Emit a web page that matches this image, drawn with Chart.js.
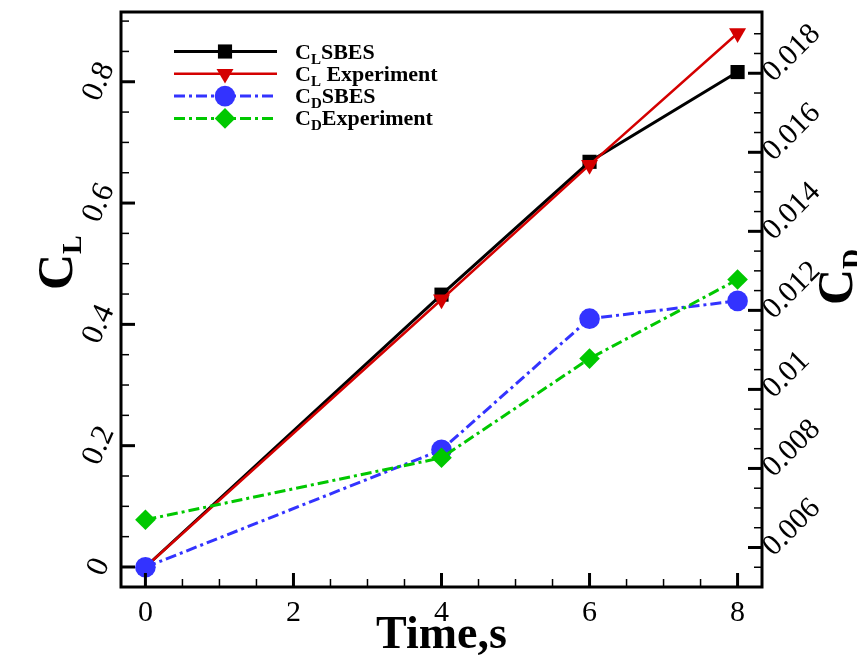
<!DOCTYPE html>
<html>
<head>
<meta charset="utf-8">
<script src="https://cdn.jsdelivr.net/npm/chart.js@4.4.1/dist/chart.umd.min.js"></script>
<style>
  html, body { margin: 0; padding: 0; background: #fff; }
  canvas { display: block; }
</style>
</head>
<body>
<canvas id="c" width="857" height="656"></canvas>
<script>
// Lift and drag coefficients over time
const time   = [0, 4, 6, 8];
const clSBES = [0, 0.449, 0.668, 0.816];
const clExp  = [0, 0.441, 0.663, 0.880];
const cdSBES = [0.0055, 0.00847, 0.01179, 0.01224];
const cdExp  = [0.0067, 0.00827, 0.01078, 0.01278];

// Axis tick values and labels
const xTicks       = [0, 2, 4, 6, 8];
const xTickLabels  = ['0', '2', '4', '6', '8'];
const clTicks      = [0, 0.2, 0.4, 0.6, 0.8];
const clTickLabels = ['0', '0.2', '0.4', '0.6', '0.8'];
const cdTicks      = [0.006, 0.008, 0.010, 0.012, 0.014, 0.016, 0.018];
const cdTickLabels = ['0.006', '0.008', '0.01', '0.012', '0.014', '0.016', '0.018'];

// Legend entries: [symbol, subscript, remainder]
const legendNames = [
  ['C', 'L', 'SBES'],
  ['C', 'L', ' Experiment'],
  ['C', 'D', 'SBES'],
  ['C', 'D', 'Experiment']
];
const xTitle  = 'Time,s';
const yTitle  = ['C', 'L'];
const y2Title = ['C', 'D'];

const SERIF = '"Liberation Serif", "Times New Roman", serif';
const DASHDOT = [11, 4, 3, 4];

function points(ys) { return time.map((t, i) => ({ x: t, y: ys[i] })); }

const datasets = [
  { label: 'CL SBES', data: points(clSBES), yAxisID: 'y', order: 3,
    borderColor: '#000000', backgroundColor: '#000000', borderWidth: 3,
    pointStyle: 'rect', pointRadius: 10, pointRotation: 0,
    pointBackgroundColor: '#000000', pointBorderColor: '#000000', pointBorderWidth: 0 },
  { label: 'CL Experiment', data: points(clExp), yAxisID: 'y', order: 2,
    borderColor: '#d40000', backgroundColor: '#d40000', borderWidth: 2.5,
    pointStyle: 'triangle', pointRadius: 9.8, pointRotation: 180,
    pointBackgroundColor: '#d40000', pointBorderColor: '#d40000', pointBorderWidth: 0 },
  { label: 'CD SBES', data: points(cdSBES), yAxisID: 'y2', order: 1,
    borderColor: '#3333ff', backgroundColor: '#3333ff', borderWidth: 3, borderDash: DASHDOT,
    pointStyle: 'circle', pointRadius: 10.3, pointRotation: 0,
    pointBackgroundColor: '#3333ff', pointBorderColor: '#3333ff', pointBorderWidth: 0 },
  { label: 'CD Experiment', data: points(cdExp), yAxisID: 'y2', order: 0,
    borderColor: '#00c800', backgroundColor: '#00c800', borderWidth: 3, borderDash: DASHDOT,
    pointStyle: 'rectRot', pointRadius: 10.3, pointRotation: 0,
    pointBackgroundColor: '#00c800', pointBorderColor: '#00c800', pointBorderWidth: 0 }
];

function line(ctx, x1, y1, x2, y2, w) {
  ctx.lineWidth = w;
  ctx.beginPath();
  ctx.moveTo(x1, y1);
  ctx.lineTo(x2, y2);
  ctx.stroke();
}

function marker(ctx, ds, x, y) {
  const opts = { pointStyle: ds.pointStyle, rotation: ds.pointRotation, radius: ds.pointRadius, borderWidth: 0 };
  ctx.fillStyle = ds.pointBackgroundColor;
  ctx.strokeStyle = ds.pointBorderColor;
  Chart.helpers.drawPoint(ctx, opts, x, y);
}

// Inward ticks, frame, rotated tick labels, titles and legend
const framePlugin = {
  id: 'frame',
  afterDraw(chart) {
    const ctx = chart.ctx;
    const a = chart.chartArea;
    const sx = chart.scales.x, sy = chart.scales.y, sd = chart.scales.y2;
    ctx.save();
    ctx.strokeStyle = '#000';
    ctx.fillStyle = '#000';
    ctx.setLineDash([]);
    ctx.lineCap = 'butt';

    const MAJ = 14, MIN = 8;

    // bottom axis ticks
    for (let v = 0; v <= sx.max; v += 0.5) {
      const px = sx.getPixelForValue(v);
      const major = xTicks.includes(v);
      line(ctx, px, a.bottom, px, a.bottom - (major ? MAJ : MIN), major ? 3 : 1.5);
    }
    // left axis ticks
    for (let k = 0; k * 0.05 <= sy.max; k++) {
      const v = k * 0.05;
      const py = sy.getPixelForValue(v);
      if (py < a.top + 3) continue;
      const major = k % 4 === 0;
      line(ctx, a.left, py, a.left + (major ? MAJ : MIN), py, major ? 3 : 1.5);
    }
    // right axis ticks
    for (let k = 1; 0.005 + k * 0.0005 <= sd.max; k++) {
      const v = 0.005 + k * 0.0005;
      const py = sd.getPixelForValue(v);
      if (py < a.top + 3) continue;
      const major = (k % 4) === 2;
      line(ctx, a.right, py, a.right - (major ? MAJ : MIN), py, major ? 3 : 1.5);
    }

    // frame
    ctx.lineWidth = 3;
    ctx.strokeRect(a.left, a.top, a.right - a.left, a.bottom - a.top);

    // tick labels
    ctx.font = '30px ' + SERIF;
    ctx.textAlign = 'center';
    ctx.textBaseline = 'alphabetic';
    xTicks.forEach((v, i) => ctx.fillText(xTickLabels[i], sx.getPixelForValue(v), a.bottom + 34));

    ctx.font = '31px ' + SERIF;
    clTicks.forEach((v, i) => {
      ctx.save();
      ctx.translate(99, sy.getPixelForValue(v));
      ctx.rotate(-66 * Math.PI / 180);
      ctx.textAlign = 'center';
      ctx.textBaseline = 'middle';
      ctx.fillText(clTickLabels[i], 0, 0);
      ctx.restore();
    });

    ctx.font = '30px ' + SERIF;
    cdTicks.forEach((v, i) => {
      ctx.save();
      ctx.translate(a.right + 6, sd.getPixelForValue(v) + 4);
      ctx.rotate(-45 * Math.PI / 180);
      ctx.textAlign = 'left';
      ctx.textBaseline = 'middle';
      ctx.fillText(cdTickLabels[i], 0, 0);
      ctx.restore();
    });

    // axis titles
    ctx.font = 'bold 46px ' + SERIF;
    ctx.textAlign = 'center';
    ctx.textBaseline = 'alphabetic';
    ctx.fillText(xTitle, (a.left + a.right) / 2, 648);

    function vTitle(parts, bx, by) {
      ctx.save();
      ctx.translate(bx, by);
      ctx.rotate(-Math.PI / 2);
      ctx.textAlign = 'left';
      ctx.textBaseline = 'alphabetic';
      ctx.font = 'bold 50px ' + SERIF;
      ctx.fillText(parts[0], 0, 0);
      const w = ctx.measureText(parts[0]).width;
      ctx.font = 'bold 28px ' + SERIF;
      ctx.fillText(parts[1], w, 9);
      ctx.restore();
    }
    vTitle(yTitle, 72, 290);
    vTitle(y2Title, 852, 305);

    // legend
    const lx0 = 174, lx1 = 277, mx = 225, tx = 295;
    chart.data.datasets.forEach((ds, i) => {
      const y = 51.5 + i * 22.3;
      ctx.strokeStyle = ds.borderColor;
      ctx.setLineDash(ds.borderDash || []);
      line(ctx, lx0, y, lx1, y, ds.borderWidth);
      ctx.setLineDash([]);
      marker(ctx, ds, mx, y);
      const n = legendNames[i];
      ctx.fillStyle = '#000';
      ctx.textAlign = 'left';
      ctx.textBaseline = 'alphabetic';
      ctx.font = 'bold 22px ' + SERIF;
      ctx.fillText(n[0], tx, y + 7);
      let x = tx + ctx.measureText(n[0]).width;
      ctx.font = 'bold 15px ' + SERIF;
      ctx.fillText(n[1], x, y + 12);
      x += ctx.measureText(n[1]).width;
      ctx.font = 'bold 22px ' + SERIF;
      ctx.fillText(n[2], x, y + 7);
    });

    ctx.restore();
  }
};

new Chart(document.getElementById('c'), {
  type: 'line',
  data: { datasets },
  options: {
    responsive: false,
    animation: false,
    devicePixelRatio: 1,
    layout: { padding: { top: 12, left: 0, right: 0, bottom: 0 } },
    plugins: { legend: { display: false }, tooltip: { enabled: false } },
    elements: { line: { tension: 0 } },
    scales: {
      x: { type: 'linear', min: -0.33, max: 8.33,
           ticks: { display: false }, grid: { display: false }, border: { display: false },
           afterFit(s) { s.height = 69; } },
      y: { type: 'linear', position: 'left', min: -0.033, max: 0.915,
           ticks: { display: false }, grid: { display: false }, border: { display: false },
           afterFit(s) { s.width = 121; } },
      y2: { type: 'linear', position: 'right', min: 0.005, max: 0.01955,
            ticks: { display: false }, grid: { display: false }, border: { display: false },
            afterFit(s) { s.width = 95; } }
    }
  },
  plugins: [framePlugin]
});
</script>
</body>
</html>
